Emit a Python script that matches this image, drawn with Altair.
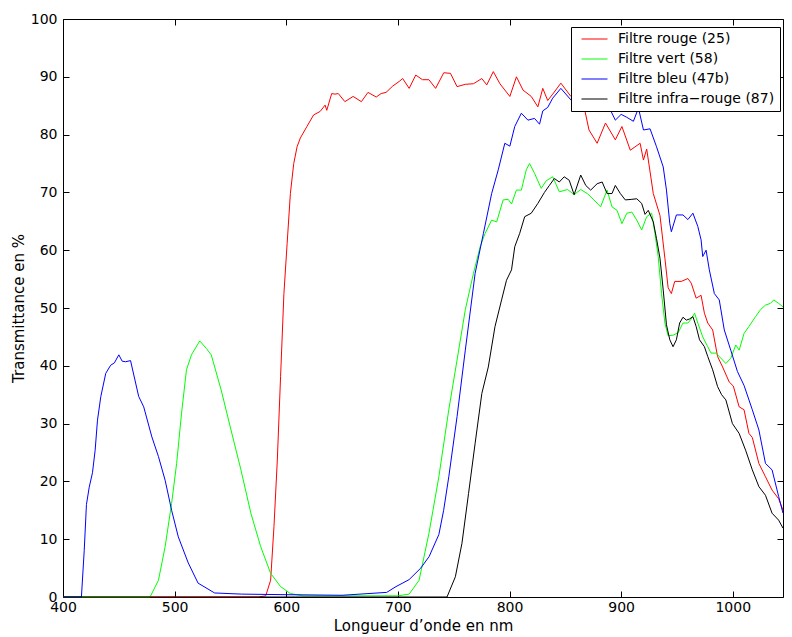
import altair as alt
import pandas as pd

names = ["Filtre rouge (25)", "Filtre vert (58)", "Filtre bleu (47b)", "Filtre infra−rouge (87)"]
colors = ["#ff0000", "#00ff00", "#0000ff", "#000000"]

red_x = [400, 575, 581.6, 586, 589, 592, 594.9, 597.9, 600.8, 603.7, 606.7, 609.7, 612.6, 618.5, 624.5,
         630.3, 634.8, 636.3, 640.7, 643.6, 646.6, 652.5, 659.9, 667.3, 673.2, 680.6, 685, 689.4, 695.4,
         701.2, 704.3, 710.1, 716, 722, 727.8, 733.8, 741.1, 747.1, 753, 760.4, 767.7, 775.2, 779.6,
         785.5, 791.4, 800.3, 806.2, 812.1, 819.5, 825.4, 829.8, 834.2, 838.7, 846, 855, 860.8, 866.8,
         871.2, 878.5, 886, 894.8, 900.7, 908.2, 917, 920, 922.9, 928.8, 934.8, 939.2, 942.1, 945, 948,
         953.9, 959.8, 962.8, 967.2, 971.6, 974.6, 977.6, 982, 986.4, 990.9, 996.8, 1000.5, 1005.7,
         1010.1, 1014.5, 1017.5, 1023.4, 1029.3, 1035.2, 1041.1, 1045]
red_y = [0, 0, 0.2, 2.9, 12.2, 23.7, 38.1, 52.5, 61.2, 69.8, 75.0, 77.9, 79.4, 81.4, 83.4,
         84.0, 85.1, 84.2, 87.1, 87.0, 87.1, 85.7, 86.6, 85.7, 87.3, 86.5, 87.1, 87.3, 88.4,
         89.2, 89.7, 88.0, 90.3, 89.5, 89.5, 88.0, 90.7, 90.6, 88.3, 88.7, 88.8, 89.7, 88.6,
         90.9, 88.8, 86.6, 90.0, 87.7, 86.6, 84.8, 88.0, 85.9, 87.0, 88.9, 86.6, 87.7, 84.8,
         80.8, 78.5, 82.0, 79.1, 81.4, 77.3, 78.5, 75.6, 77.5, 69.8, 66.0, 58.6, 53.5, 52.5, 54.6,
         54.6, 55.1, 54.3, 51.7, 52.2, 49.1, 47.4, 46.2, 41.6, 39.8, 37.2, 36.5, 32.9,
         32.4, 28.3, 27.6, 23.1, 20.8, 18.5, 17.0, 15.0]

green_x = [400, 478, 485.5, 491.5, 497.3, 501.8, 506.2, 510.6, 515.1, 522.5, 528.4, 532.8, 541.7, 550.5,
           559.4, 568.3, 577.1, 586, 594.9, 603.7, 615, 700, 710.1, 719, 727.8, 736.7, 745.6, 753, 760.4,
           767.7, 773.7, 778.1, 784, 788.5, 794.3, 798.8, 801.8, 806.2, 810.6, 815, 818, 822.4, 828.4,
           832.8, 838.7, 844.6, 852, 857.9, 863.8, 869.7, 875.6, 881.6, 887.4, 891.8, 896.3, 900.7,
           905.1, 909.6, 914, 918.4, 922.9, 927.3, 930.3, 933.2, 936.2, 939.2, 942.1, 946.5, 951,
           955.4, 959.8, 962.8, 965.8, 968.7, 973.1, 977.6, 980.5, 984.9, 989.4, 993.8, 998.2, 1002.7,
           1005.7, 1010.1, 1014.5, 1020.4, 1024.8, 1029.3, 1033.7, 1036.7, 1041.1, 1045]
green_y = [0, 0, 2.9, 8.7, 16.2, 23.1, 31.8, 39.3, 41.9, 44.3, 43.0, 41.9, 35.8, 28.9,
           22.0, 14.5, 8.7, 4.1, 1.8, 0.6, 0.2, 0.2, 0.5, 2.9, 11.0, 20.8, 32.4, 41.0, 49.7,
           56.0, 60.6, 62.9, 65.2, 64.9, 68.7, 68.8, 68.0, 70.4, 70.4, 73.9, 75.0, 73.3, 70.7,
           72.0, 72.7, 70.1, 70.5, 69.6, 70.5, 69.8, 68.7, 67.5, 70.4, 67.5, 66.9, 64.6,
           66.4, 66.6, 65.2, 63.5, 65.8, 66.4, 62.9, 58.9, 52.5, 47.4, 45.2, 45.3, 45.7,
           47.4, 47.4, 48.1, 49.1, 47.4, 45.0, 43.3, 42.2, 42.2, 41.3, 40.4, 41.3, 43.6,
           42.7, 45.6, 46.8, 48.5, 49.7, 50.5, 50.8, 51.4, 50.8, 50.2]

blue_x = [400, 416.5, 419, 421, 423.5, 426.4, 428.8, 430.9, 433.9, 438.3, 442.7, 446, 450, 453, 456,
          460.5, 467.8, 472.3, 479.6, 485.5, 491.5, 497.3, 503.3, 512.2, 521, 535.8, 560, 600, 650, 690,
          698.3, 710, 720.5, 728, 736.7, 741, 745.6, 753, 760.4, 769.2, 776.6, 784, 789.9, 795.8, 800.3,
          804.7, 810.6, 816.5, 822.4, 826.9, 829.8, 834.2, 838.7, 846, 855, 862, 875, 889, 894.8, 900,
          905, 911, 915.5, 920, 925.9, 931.7, 937.7, 940.6, 943.6, 945, 949.5, 955.4, 959.8, 964.3,
          968.7, 971.6, 973.1, 976.1, 979, 983.5, 987.9, 992.4, 998.2, 1004.2, 1010.1, 1017.5, 1023.4,
          1029.3, 1035.2, 1041.1, 1045]
blue_y = [0, 0, 8.0, 16.0, 19.0, 21.5, 25.4, 30.6, 34.7, 38.7, 40.1, 40.5, 41.9, 40.8, 40.7,
          40.9, 34.7, 32.9, 27.7, 24.3, 20.2, 15.0, 10.4, 5.9, 2.4, 0.7, 0.5, 0.4, 0.3, 0.8,
          1.8, 3.0, 5.0, 7.0, 10.8, 15.0, 20.8, 31.2, 42.7, 56.0, 62.9, 69.8, 73.9, 78.5, 78.0,
          81.4, 83.7, 82.5, 82.8, 81.8, 84.1, 84.7, 86.3, 88.0, 86.0, 86.5, 86.0, 84.8, 82.5, 83.5,
          83.0, 82.3, 84.6, 80.8, 81.0, 77.9, 74.4, 70.4, 64.6, 63.2, 66.1, 66.1, 65.3, 66.4,
          64.1, 61.8, 58.9, 60.0, 56.6, 52.5, 51.4, 46.2, 42.7, 39.0, 36.6, 32.4, 28.9,
          23.1, 22.0, 17.4, 14.5]

black_x = [400, 744, 751.5, 757.4, 763.3, 769.2, 775.2, 781, 787, 792.9, 797.3, 801.8, 804.7, 809.1,
           813.6, 819.5, 825.4, 831.3, 835.7, 840.2, 844.6, 849, 853.5, 857.9, 863.8, 868.3, 872.7,
           878.5, 883, 887.4, 891.8, 894.8, 899.3, 903.7, 909.6, 914, 918.4, 921.4, 924.3, 928.8,
           931.7, 934.8, 937.7, 940.6, 943.6, 946.5, 949.5, 952.4, 955.4, 958.4, 961.3, 964.3, 967.2,
           970.2, 974.6, 977.6, 982, 986.4, 990, 993.8, 999.7, 1005.7, 1011.5, 1017.5, 1023.4, 1029.3,
           1035.2, 1041.1, 1045]
black_y = [0, 0, 3.5, 9.3, 17.9, 26.6, 35.2, 39.8, 46.8, 51.4, 54.8, 56.6, 60.6, 62.9,
           65.8, 66.4, 68.1, 70.0, 71.2, 72.4, 71.8, 72.7, 72.1, 69.6, 73.0, 71.2, 70.4,
           71.5, 71.8, 69.8, 69.8, 71.2, 69.8, 68.7, 68.8, 68.9, 68.1, 66.2, 66.9, 64.9,
           62.0, 58.6, 53.1, 47.1, 44.5, 43.3, 44.5, 47.4, 48.4, 47.9, 48.1, 48.5, 46.8,
           44.5, 43.3, 41.6, 39.3, 36.4, 35.0, 34.1, 30.0, 28.3, 25.4, 22.0, 19.1, 17.6,
           14.5, 13.3, 11.9]

x_ticks = [400, 500, 600, 700, 800, 900, 1000]
y_ticks = [0, 10, 20, 30, 40, 50, 60, 70, 80, 90, 100]

rows = []
for name, xs, ys in zip(names, [red_x, green_x, blue_x, black_x], [red_y, green_y, blue_y, black_y]):
    for xv, yv in zip(xs, ys):
        rows.append({"nm": xv, "T": yv, "filtre": name})
df = pd.DataFrame(rows)

xscale = alt.Scale(domain=[400, 1045], nice=False, zero=False)
yscale = alt.Scale(domain=[0, 100], nice=False)
FONT = "DejaVu Sans"

base = alt.Chart(df)

frame = base.mark_line(strokeOpacity=0).encode(
    x=alt.X("nm:Q", scale=xscale,
            axis=alt.Axis(orient="top", values=x_ticks, labels=False, title=None, offset=-6,
                          tickSize=6, domain=False, grid=False, tickColor="black")),
    y=alt.Y("T:Q", scale=yscale,
            axis=alt.Axis(orient="right", values=y_ticks, labels=False, title=None, offset=-6,
                          tickSize=6, domain=False, grid=False, tickColor="black")),
    detail="filtre:N",
)

lines = base.mark_line(strokeWidth=1).encode(
    x=alt.X("nm:Q", scale=xscale,
            axis=alt.Axis(orient="bottom", values=x_ticks, format="d", title="Longueur d’onde en nm",
                          offset=-6, tickSize=6, domain=False, grid=False, labelFlush=False,
                          labelOverlap=False, labelPadding=3, titlePadding=4, tickColor="black")),
    y=alt.Y("T:Q", scale=yscale,
            axis=alt.Axis(orient="left", values=y_ticks, format="d", title="Transmittance en %",
                          offset=-6, tickSize=6, domain=False, grid=False, labelFlush=False,
                          labelOverlap=False, labelPadding=6, titlePadding=4, tickColor="black")),
    color=alt.Color("filtre:N", sort=names,
                    scale=alt.Scale(domain=names, range=colors),
                    legend=alt.Legend(title=None, orient="none", legendX=508, legendY=8,
                                      symbolType="M-1,0H3", symbolSize=169, symbolStrokeWidth=1,
                                      labelOffset=23, labelFont=FONT, labelFontSize=14,
                                      labelColor="black", labelLimit=400, padding=5, rowPadding=6,
                                      strokeColor="black", fillColor="white", symbolOffset=5)),
)

chart = alt.layer(frame, lines).resolve_axis(
    x="independent", y="independent"
).properties(
    width=720, height=578,
    autosize=alt.AutoSizeParams(type="none"),
    padding={"left": 55, "top": 11, "right": 1, "bottom": 45},
).configure_view(
    stroke="black", strokeWidth=1
).configure_axis(
    labelFont=FONT, labelFontSize=14, labelColor="black",
    titleFont=FONT, titleFontSize=15, titleFontWeight="normal", titleColor="black",
)

chart.save("out.html", embed_options={"renderer": "svg", "actions": False})
